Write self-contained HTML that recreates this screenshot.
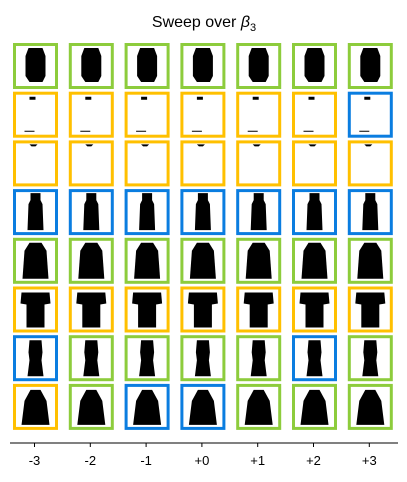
<!DOCTYPE html>
<html><head><meta charset="utf-8"><style>
body{margin:0;background:#fff;width:407px;height:477px;overflow:hidden;font-family:"Liberation Sans",sans-serif}
</style></head><body>
<svg width="407" height="477">
<text x="204" y="27" text-anchor="middle" font-size="16" fill="#000">Sweep over <tspan font-style="italic">β</tspan><tspan font-size="11" dy="4">3</tspan></text>
<g id="grid"></g>
<line x1="10" y1="443" x2="398" y2="443" stroke="#000" stroke-width="1"/>
<g id="xt"></g>
</svg>
<script>
const categories=['-3','-2','-1','+0','+1','+2','+3'];
const status=[
'GGGGGGG','OOOOOOB','OOOOOOO','BBBBBBB','GGGGGGG','OOOOOOO','BGGGGBG','OGBBGGG'];
const rowShapes=['speckle','sparse','empty','torso','wide','tshirt','narrow','bell'];
const colors={G:'#8dcc3c',O:'#ffc000',B:'#0a7de0'};
const shapes={
speckle:'M13 2 L27 2 L30 10 L30 30 L27 36 L14 36 L10 30 L10 10 Z',
sparse:'M14 2 L20 2 L20 5 L14 5 Z M9 36 L19 36 L19 37 L9 37 Z',
empty:'M14 1 L22 1 L20 3 L16 3 Z',
torso:'M15 1 L25 1 L25 8 L27 12 L28 38 L12 38 L13 12 L15 8 Z',
wide:'M14 2 L26 2 L31 10 L33 38 L7 38 L9 10 Z',
tshirt:'M6 3 L34 3 L35 14 L29 15 L29 38 L11 38 L11 15 L5 14 Z',
narrow:'M14 2 L26 2 L27 14 L26 22 L28 38 L12 38 L14 22 L13 14 Z',
bell:'M15 3 L25 3 L31 14 L34 38 L6 38 L9 14 Z'};
const g=document.getElementById('grid');
const NS='http://www.w3.org/2000/svg';
const x0=13,dx=55.8,y0=43,dy=48.7,w=45,h=46;
for(let r=0;r<status.length;r++){for(let c=0;c<categories.length;c++){
 const x=x0+c*dx,y=y0+r*dy;
 const rect=document.createElementNS(NS,'rect');
 
 
 rect.setAttribute('x',x+1.5);rect.setAttribute('y',y+1.5);rect.setAttribute('width',w-3);rect.setAttribute('height',h-3);
 rect.setAttribute('fill','#fff');rect.setAttribute('stroke',colors[status[r][c]]);rect.setAttribute('stroke-width','3');
 g.appendChild(rect);
 const p=document.createElementNS(NS,'path');
 
 
 p.setAttribute('d',shapes[rowShapes[r]]);p.setAttribute('fill','#000');
 p.setAttribute('transform',`translate(${x+2.5},${y+3})`);
 g.appendChild(p);
}}
const xt=document.getElementById('xt');
categories.forEach((t,i)=>{
 const x=x0+i*dx+w/2-1;
 const l=document.createElementNS(NS,'line');
 
 
 l.setAttribute('x1',x);l.setAttribute('x2',x);l.setAttribute('y1',443);l.setAttribute('y2',447);l.setAttribute('stroke','#000');
 xt.appendChild(l);
 const tx=document.createElementNS(NS,'text');
 
 
 tx.setAttribute('x',x);tx.setAttribute('y',465);tx.setAttribute('text-anchor','middle');tx.setAttribute('font-size','13');
 tx.textContent=t;xt.appendChild(tx);
});
</script>
</body></html>
